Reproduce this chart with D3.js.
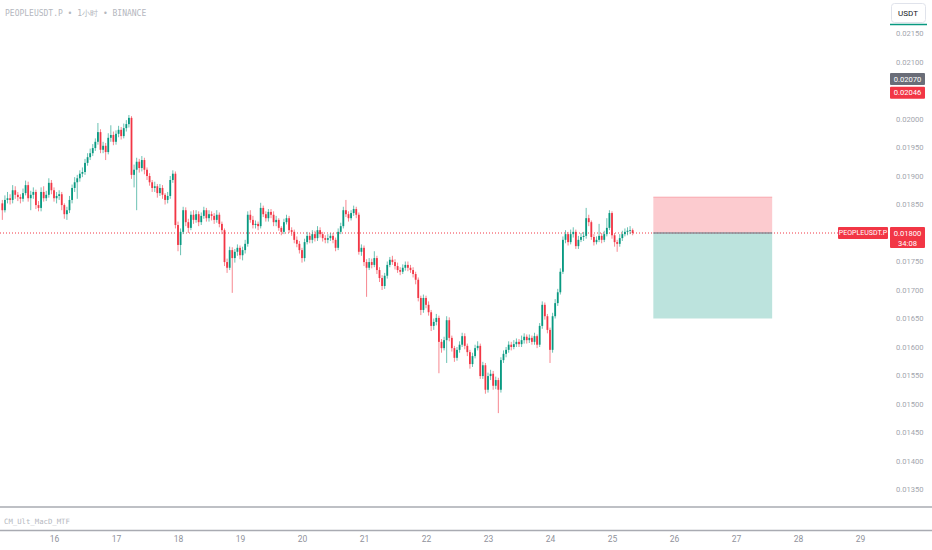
<!DOCTYPE html>
<html>
<head>
<meta charset="utf-8">
<script src="https://cdn.jsdelivr.net/npm/d3@7"></script>
<style>
  html, body { margin: 0; padding: 0; background: #fff; }
  svg { display: block; }
  text { font-family: Roboto, "Liberation Sans", sans-serif; }
  .mono { font-family: "DejaVu Sans Mono", "Liberation Mono", monospace; }
</style>
</head>
<body>
<svg width="932" height="550"></svg>
<script>
// PEOPLEUSDT.P, 1h candles from the 15th 04:00 to the 25th 08:00 (UTC)
var firstOpen = 0.01852;
var closes = [
  0.01840,0.01858,0.01861,0.01858,0.01875,0.01867,0.01863,0.01860,0.01870,0.01884,
  0.01861,0.01867,0.01872,0.01849,0.01844,0.01872,0.01861,0.01867,0.01888,0.01875,
  0.01861,0.01865,0.01868,0.01849,0.01833,0.01840,0.01858,0.01879,0.01889,0.01896,
  0.01904,0.01907,0.01923,0.01933,0.01940,0.01949,0.01960,0.01977,0.01946,0.01953,
  0.01942,0.01967,0.01972,0.01960,0.01974,0.01981,0.01970,0.01984,0.01991,0.02002,
  0.01902,0.01911,0.01925,0.01914,0.01928,0.01911,0.01900,0.01889,0.01879,0.01882,
  0.01870,0.01879,0.01867,0.01858,0.01865,0.01893,0.01904,0.01814,0.01779,0.01802,
  0.01840,0.01819,0.01809,0.01832,0.01823,0.01833,0.01819,0.01830,0.01840,0.01826,
  0.01833,0.01830,0.01823,0.01832,0.01816,0.01805,0.01749,0.01739,0.01770,0.01756,
  0.01767,0.01774,0.01761,0.01770,0.01781,0.01832,0.01823,0.01814,0.01816,0.01812,
  0.01844,0.01833,0.01826,0.01837,0.01832,0.01819,0.01823,0.01809,0.01802,0.01819,
  0.01826,0.01805,0.01802,0.01788,0.01781,0.01770,0.01756,0.01784,0.01795,0.01788,
  0.01798,0.01791,0.01805,0.01798,0.01791,0.01788,0.01791,0.01795,0.01788,0.01774,
  0.01802,0.01812,0.01840,0.01833,0.01826,0.01835,0.01842,0.01832,0.01767,0.01774,
  0.01749,0.01739,0.01749,0.01744,0.01756,0.01735,0.01721,0.01707,0.01725,0.01744,
  0.01753,0.01749,0.01742,0.01735,0.01732,0.01739,0.01744,0.01739,0.01735,0.01728,
  0.01718,0.01686,0.01665,0.01686,0.01674,0.01661,0.01637,0.01644,0.01651,0.01609,
  0.01598,0.01612,0.01647,0.01616,0.01598,0.01581,0.01595,0.01604,0.01619,0.01602,
  0.01591,0.01570,0.01584,0.01598,0.01602,0.01549,0.01568,0.01525,0.01549,0.01553,
  0.01532,0.01542,0.01525,0.01577,0.01588,0.01595,0.01604,0.01600,0.01605,0.01609,
  0.01605,0.01612,0.01618,0.01612,0.01616,0.01609,0.01619,0.01604,0.01637,0.01674,
  0.01654,0.01630,0.01595,0.01654,0.01677,0.01696,0.01732,0.01788,0.01798,0.01784,
  0.01798,0.01802,0.01777,0.01788,0.01793,0.01795,0.01826,0.01819,0.01793,0.01784,
  0.01788,0.01795,0.01788,0.01798,0.01809,0.01835,0.01796,0.01784,0.01781,0.01791,
  0.01798,0.01802,0.01804,0.01805,0.01800
];
var highs = [
  0.01858,0.01866,0.01872,0.01868,0.01884,0.01882,0.01872,0.01868,0.01878,0.01892,
  0.01890,0.01874,0.01880,0.01876,0.01856,0.01880,0.01882,0.01874,0.01896,0.01893,
  0.01880,0.01872,0.01875,0.01872,0.01852,0.01846,0.01865,0.01885,0.01898,0.01902,
  0.01910,0.01915,0.01930,0.01940,0.01948,0.01956,0.01966,0.01993,0.01982,0.01960,
  0.01958,0.01975,0.01989,0.01978,0.01980,0.01988,0.01986,0.01992,0.01998,0.02007,
  0.02005,0.01920,0.01932,0.01930,0.01935,0.01932,0.01915,0.01905,0.01893,0.01890,
  0.01886,0.01886,0.01884,0.01870,0.01872,0.01900,0.01910,0.01908,0.01820,0.01808,
  0.01846,0.01845,0.01825,0.01838,0.01840,0.01840,0.01838,0.01836,0.01846,0.01844,
  0.01840,0.01838,0.01835,0.01840,0.01836,0.01820,0.01808,0.01755,0.01776,0.01775,
  0.01772,0.01780,0.01778,0.01776,0.01788,0.01838,0.01840,0.01830,0.01822,0.01820,
  0.01853,0.01848,0.01838,0.01842,0.01842,0.01838,0.01830,0.01826,0.01812,0.01825,
  0.01832,0.01830,0.01810,0.01806,0.01794,0.01786,0.01774,0.01790,0.01802,0.01800,
  0.01805,0.01804,0.01812,0.01810,0.01802,0.01796,0.01798,0.01800,0.01800,0.01792,
  0.01808,0.01818,0.01846,0.01858,0.01838,0.01840,0.01848,0.01846,0.01836,0.01780,
  0.01778,0.01754,0.01756,0.01755,0.01768,0.01760,0.01740,0.01726,0.01730,0.01750,
  0.01758,0.01760,0.01754,0.01748,0.01740,0.01745,0.01750,0.01750,0.01744,0.01740,
  0.01732,0.01722,0.01690,0.01692,0.01690,0.01680,0.01665,0.01650,0.01658,0.01655,
  0.01614,0.01618,0.01654,0.01652,0.01620,0.01602,0.01600,0.01610,0.01625,0.01624,
  0.01606,0.01595,0.01590,0.01604,0.01610,0.01606,0.01574,0.01572,0.01555,0.01560,
  0.01558,0.01548,0.01546,0.01582,0.01594,0.01600,0.01610,0.01609,0.01612,0.01615,
  0.01614,0.01620,0.01624,0.01622,0.01622,0.01620,0.01625,0.01622,0.01642,0.01680,
  0.01678,0.01658,0.01634,0.01660,0.01684,0.01702,0.01738,0.01794,0.01805,0.01802,
  0.01806,0.01810,0.01806,0.01795,0.01800,0.01802,0.01844,0.01832,0.01822,0.01798,
  0.01794,0.01816,0.01800,0.01804,0.01826,0.01840,0.01838,0.01800,0.01788,0.01798,
  0.01804,0.01808,0.01810,0.01812,0.01808
];
var lows = [
  0.01823,0.01836,0.01852,0.01850,0.01852,0.01860,0.01856,0.01852,0.01855,0.01866,
  0.01855,0.01840,0.01860,0.01842,0.01838,0.01838,0.01855,0.01856,0.01862,0.01868,
  0.01855,0.01852,0.01858,0.01840,0.01825,0.01823,0.01835,0.01852,0.01872,0.01860,
  0.01890,0.01898,0.01902,0.01918,0.01928,0.01935,0.01944,0.01955,0.01940,0.01940,
  0.01928,0.01938,0.01960,0.01954,0.01955,0.01968,0.01964,0.01966,0.01978,0.01985,
  0.01895,0.01880,0.01840,0.01906,0.01908,0.01903,0.01893,0.01883,0.01872,0.01872,
  0.01862,0.01865,0.01860,0.01850,0.01852,0.01860,0.01888,0.01808,0.01768,0.01761,
  0.01798,0.01812,0.01800,0.01805,0.01816,0.01818,0.01812,0.01814,0.01825,0.01820,
  0.01820,0.01822,0.01816,0.01818,0.01810,0.01798,0.01742,0.01730,0.01735,0.01695,
  0.01748,0.01760,0.01754,0.01752,0.01764,0.01776,0.01818,0.01808,0.01808,0.01805,
  0.01808,0.01828,0.01820,0.01820,0.01826,0.01812,0.01812,0.01804,0.01796,0.01798,
  0.01815,0.01800,0.01795,0.01782,0.01775,0.01764,0.01748,0.01750,0.01780,0.01782,
  0.01782,0.01785,0.01786,0.01792,0.01785,0.01782,0.01782,0.01786,0.01782,0.01768,
  0.01770,0.01798,0.01808,0.01828,0.01820,0.01822,0.01830,0.01826,0.01762,0.01760,
  0.01742,0.01688,0.01735,0.01738,0.01740,0.01728,0.01714,0.01700,0.01702,0.01720,
  0.01740,0.01744,0.01736,0.01730,0.01726,0.01728,0.01734,0.01733,0.01730,0.01722,
  0.01710,0.01680,0.01656,0.01660,0.01668,0.01655,0.01628,0.01630,0.01638,0.01554,
  0.01590,0.01594,0.01572,0.01610,0.01592,0.01574,0.01576,0.01590,0.01600,0.01596,
  0.01584,0.01562,0.01565,0.01580,0.01594,0.01544,0.01544,0.01518,0.01520,0.01542,
  0.01525,0.01526,0.01484,0.01520,0.01572,0.01582,0.01590,0.01594,0.01596,0.01600,
  0.01600,0.01600,0.01606,0.01606,0.01607,0.01604,0.01604,0.01598,0.01600,0.01632,
  0.01648,0.01624,0.01572,0.01590,0.01650,0.01672,0.01692,0.01728,0.01782,0.01778,
  0.01780,0.01792,0.01772,0.01772,0.01784,0.01786,0.01790,0.01812,0.01788,0.01778,
  0.01780,0.01784,0.01782,0.01784,0.01794,0.01805,0.01790,0.01776,0.01767,0.01776,
  0.01786,0.01794,0.01796,0.01798,0.01796
];

var dayTicks = [16, 17, 18, 19, 20, 21, 22, 23, 24, 25, 26, 27, 28, 29];
var priceTicks = [0.0135, 0.014, 0.0145, 0.015, 0.0155, 0.016, 0.0165, 0.017,
  0.0175, 0.0185, 0.019, 0.0195, 0.02, 0.021, 0.0215];
var lastPrice = 0.018;
var countdown = '34:08';
var markPrices = [0.0207, 0.02046];
// short position tool: stop, entry, target
var positionPrices = [0.01863, 0.018, 0.0165];
var positionStart = [25, 16];
var positionEnd = [27, 14];

var up = '#089981';
var down = '#f23645';
var paneW = 888;
var paneH = 506;

function t(day, hour) {
  return new Date(Date.UTC(2024, 10, day, hour || 0));
}

var x = d3.scaleUtc().domain([t(16), t(29)]).range([54, 860]);
var y = d3.scaleLinear().domain([0.0135, 0.0215]).range([489.5, 33.5]);

var start = t(15, 4);
var candles = closes.map(function (c, i) {
  return {
    time: d3.utcHour.offset(start, i),
    open: i ? closes[i - 1] : firstOpen,
    high: highs[i],
    low: lows[i],
    close: c
  };
});

var svg = d3.select('svg');
svg.append('defs').append('clipPath').attr('id', 'pane')
  .append('rect').attr('width', paneW).attr('height', paneH);

var pane = svg.append('g').attr('clip-path', 'url(#pane)');

// last price dotted line
pane.append('line')
  .attr('x1', 0).attr('x2', paneW)
  .attr('y1', y(lastPrice)).attr('y2', y(lastPrice))
  .attr('stroke', down).attr('stroke-width', 1)
  .attr('stroke-dasharray', '1,2');

// position tool
var px0 = x(t(positionStart[0], positionStart[1]));
var px1 = x(t(positionEnd[0], positionEnd[1]));
pane.append('rect')
  .attr('x', px0).attr('width', px1 - px0)
  .attr('y', y(positionPrices[0]))
  .attr('height', y(positionPrices[1]) - y(positionPrices[0]))
  .attr('fill', down).attr('fill-opacity', 0.26);
pane.append('rect')
  .attr('x', px0).attr('width', px1 - px0)
  .attr('y', y(positionPrices[1]))
  .attr('height', y(positionPrices[2]) - y(positionPrices[1]))
  .attr('fill', up).attr('fill-opacity', 0.27);
pane.append('line')
  .attr('x1', px0).attr('x2', px1)
  .attr('y1', y(positionPrices[0])).attr('y2', y(positionPrices[0]))
  .attr('stroke', down).attr('stroke-opacity', 0.3);
pane.append('line')
  .attr('x1', px0).attr('x2', px1)
  .attr('y1', y(positionPrices[1])).attr('y2', y(positionPrices[1]))
  .attr('stroke', '#8c8f99').attr('stroke-width', 1.5);

// candles
var bw = 1.8;
var g = pane.append('g');
g.selectAll('line.wick')
  .data(candles)
  .enter()
  .append('line')
  .attr('class', 'wick')
  .attr('x1', function (d) { return x(d.time); })
  .attr('x2', function (d) { return x(d.time); })
  .attr('y1', function (d) { return y(d.high); })
  .attr('y2', function (d) { return y(d.low); })
  .attr('stroke', function (d) { return d.close >= d.open ? up : down; })
  .attr('stroke-opacity', 0.75)
  .attr('stroke-width', 0.8);
g.selectAll('rect.body')
  .data(candles)
  .enter()
  .append('rect')
  .attr('class', 'body')
  .attr('x', function (d) { return x(d.time) - bw / 2; })
  .attr('width', bw)
  .attr('y', function (d) { return y(Math.max(d.open, d.close)); })
  .attr('height', function (d) {
    return Math.max(0.8, Math.abs(y(d.open) - y(d.close)));
  })
  .attr('fill', function (d) { return d.close >= d.open ? up : down; });

// header
svg.append('text')
  .attr('class', 'mono')
  .attr('x', 5).attr('y', 16)
  .attr('font-size', 8).attr('fill', '#b4b7be')
  .text('PEOPLEUSDT.P • 1小时 • BINANCE');

// pane separators and indicator pane
svg.append('line')
  .attr('x1', 0).attr('x2', 932).attr('y1', 507).attr('y2', 507)
  .attr('stroke', '#a9abb2').attr('stroke-width', 1.5);
svg.append('line')
  .attr('x1', 0).attr('x2', 932).attr('y1', 530.5).attr('y2', 530.5)
  .attr('stroke', '#a9abb2').attr('stroke-width', 1.5);
svg.append('text')
  .attr('class', 'mono')
  .attr('x', 4).attr('y', 524)
  .attr('font-size', 7.3).attr('fill', '#b4b7be')
  .text('CM_Ult_MacD_MTF');

// time axis
var xAxis = svg.append('g')
  .attr('transform', 'translate(0,536)')
  .call(d3.axisBottom(x)
    .tickValues(dayTicks.map(function (d) { return t(d); }))
    .tickFormat(d3.utcFormat('%-d'))
    .tickSize(0)
    .tickPadding(0));
xAxis.select('.domain').remove();
xAxis.selectAll('text')
  .attr('font-size', 8.5)
  .attr('fill', '#8f929b')
  .attr('dy', '0.71em');

// price axis
var yAxis = svg.append('g')
  .attr('transform', 'translate(' + paneW + ',0)')
  .call(d3.axisRight(y)
    .tickValues(priceTicks)
    .tickFormat(d3.format('.5f'))
    .tickSize(0)
    .tickPadding(8));
yAxis.select('.domain').remove();
yAxis.selectAll('text')
  .attr('font-size', 7.6)
  .attr('fill', '#a3a6ae');

// USDT button
svg.append('rect')
  .attr('x', 891.5).attr('y', 3.5).attr('width', 34).attr('height', 19)
  .attr('rx', 3).attr('fill', '#fff').attr('stroke', '#e0e3eb');
svg.append('text')
  .attr('x', 908).attr('y', 16).attr('text-anchor', 'middle')
  .attr('font-size', 8).attr('fill', '#131722')
  .text('USDT');
svg.append('line')
  .attr('x1', 890).attr('x2', 927).attr('y1', 24.5).attr('y2', 24.5)
  .attr('stroke', up).attr('stroke-width', 1.5);

// price markers on the axis
var markFill = ['#6a6d78', down];
markPrices.forEach(function (p, i) {
  svg.append('rect')
    .attr('x', 890).attr('y', y(p) - 6).attr('width', 35).attr('height', 12)
    .attr('rx', 1).attr('fill', markFill[i]);
  svg.append('text')
    .attr('x', 907.5).attr('y', y(p)).attr('dy', '0.35em')
    .attr('text-anchor', 'middle')
    .attr('font-size', 7.6).attr('fill', '#fff')
    .text(d3.format('.5f')(p));
});

// last price label
var ly = y(lastPrice);
svg.append('rect')
  .attr('x', 838).attr('y', ly - 6).attr('width', 50).attr('height', 12)
  .attr('rx', 1).attr('fill', down);
svg.append('text')
  .attr('x', 863).attr('y', ly).attr('dy', '0.35em')
  .attr('text-anchor', 'middle')
  .attr('font-size', 7).attr('fill', '#fff')
  .text('PEOPLEUSDT.P');
svg.append('rect')
  .attr('x', 890).attr('y', ly - 6).attr('width', 35).attr('height', 21)
  .attr('rx', 1).attr('fill', down);
svg.append('text')
  .attr('x', 907.5).attr('y', ly).attr('dy', '0.35em')
  .attr('text-anchor', 'middle')
  .attr('font-size', 7.6).attr('fill', '#fff')
  .text(d3.format('.5f')(lastPrice));
svg.append('text')
  .attr('x', 907.5).attr('y', ly + 10).attr('dy', '0.35em')
  .attr('text-anchor', 'middle')
  .attr('font-size', 7.6).attr('fill', '#fff')
  .text(countdown);
</script>
</body>
</html>
